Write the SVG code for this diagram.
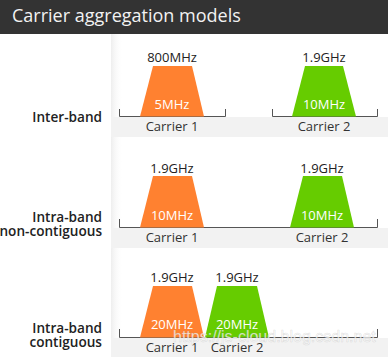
<svg xmlns="http://www.w3.org/2000/svg" width="388" height="357" viewBox="0 0 388 357">
  <defs>
    <linearGradient id="panelEdge" x1="0" y1="0" x2="1" y2="0">
      <stop offset="0" stop-color="#eeeeee"/>
      <stop offset="1" stop-color="#ffffff" stop-opacity="0"/>
    </linearGradient>
    <style>
      .title { font-family: "Open Sans", "Liberation Sans", sans-serif; font-size: 18px; fill: #f2f2f2; }
      .row { font-family: "Open Sans", "Liberation Sans", sans-serif; font-size: 13.6px; font-weight: 600; fill: #222222; text-anchor: end; }
      .freq { font-family: "Open Sans", "Liberation Sans", sans-serif; font-size: 13px; fill: #222222; text-anchor: middle; }
      .bw { font-family: "Open Sans", "Liberation Sans", sans-serif; font-size: 13px; fill: #ffffff; text-anchor: middle; }
      .car { font-family: "Open Sans", "Liberation Sans", sans-serif; font-size: 13px; fill: #333333; text-anchor: middle; }
      .band { fill: #f2f2f2; }
      .axis { fill: none; stroke: #555555; stroke-width: 1; }
      .c1 { fill: #ff8130; }
      .c2 { fill: #66cc00; }
      .mark { font-family: "Liberation Sans", Arial, sans-serif; font-size: 16px; fill: #ffffff; fill-opacity: 0.75; stroke: #9a9a9a; stroke-opacity: 0.3; stroke-width: 0.6; }
    </style>
  </defs>

  <!-- page -->
  <rect x="0" y="0" width="388" height="357" fill="#ffffff"/>

  <!-- header bar -->
  <g id="header">
    <rect x="0" y="0" width="388" height="34" fill="#333333"/>
    <text class="title" x="12" y="22">Carrier aggregation models</text>
  </g>

  <!-- chart panel with soft left edge and grey label bands -->
  <g id="panel">
    <rect x="111" y="34" width="12" height="323" fill="url(#panelEdge)"/>
    <rect class="band" x="111" y="117" width="277" height="20"/>
    <rect class="band" x="111" y="228" width="277" height="20"/>
    <rect class="band" x="111" y="338" width="277" height="19"/>
  </g>

  <!-- carrier axes (brackets) -->
  <g id="connectors">
    <path class="axis" d="M119.5 109 V116.5 H225.5 V109"/>
    <path class="axis" d="M272.5 109 V116.5 H377.5 V109"/>
    <path class="axis" d="M119.5 219 V227.5 H377.5 V219"/>
    <path class="axis" d="M119.5 329 V337.5 H377.5 V329"/>
  </g>

  <!-- row 1: inter-band -->
  <g id="row-inter-band">
    <text class="row" x="102" y="122">Inter-band</text>
  </g>
  <g id="inter-carrier-1">
    <polygon class="c1" points="153,66 192,66 204,116.5 140,116.5"/>
    <text class="freq" x="172" y="62">800MHz</text>
    <text class="bw" x="172" y="109">5MHz</text>
    <text class="car" x="172" y="131">Carrier 1</text>
  </g>
  <g id="inter-carrier-2">
    <polygon class="c2" points="305,66 343,66 356,116.5 292,116.5"/>
    <text class="freq" x="324" y="62">1.9GHz</text>
    <text class="bw" x="324" y="109">10MHz</text>
    <text class="car" x="324" y="131">Carrier 2</text>
  </g>

  <!-- row 2: intra-band non-contiguous -->
  <g id="row-intra-noncontiguous">
    <text class="row" x="102" y="222">Intra-band</text>
    <text class="row" x="102" y="236">non-contiguous</text>
  </g>
  <g id="noncontig-carrier-1">
    <polygon class="c1" points="153,176 192,176 204,227.5 140,227.5"/>
    <text class="freq" x="172" y="173">1.9GHz</text>
    <text class="bw" x="172" y="220">10MHz</text>
    <text class="car" x="172" y="242">Carrier 1</text>
  </g>
  <g id="noncontig-carrier-2">
    <polygon class="c2" points="303,176 342,176 354,227.5 290,227.5"/>
    <text class="freq" x="322" y="173">1.9GHz</text>
    <text class="bw" x="322" y="220">10MHz</text>
    <text class="car" x="322" y="242">Carrier 2</text>
  </g>

  <!-- row 3: intra-band contiguous -->
  <g id="row-intra-contiguous">
    <text class="row" x="102" y="333">Intra-band</text>
    <text class="row" x="102" y="347">contiguous</text>
  </g>
  <g id="contig-carrier-1">
    <polygon class="c1" points="153,286 192,286 204,337.5 140,337.5"/>
    <text class="freq" x="172" y="282">1.9GHz</text>
    <text class="bw" x="172" y="329">20MHz</text>
    <text class="car" x="172" y="352">Carrier 1</text>
  </g>
  <g id="contig-carrier-2">
    <polygon class="c2" points="217,286 257,286 269,337.5 205,337.5"/>
    <text class="freq" x="237" y="282">1.9GHz</text>
    <text class="bw" x="237" y="329">20MHz</text>
    <text class="car" x="237" y="352">Carrier 2</text>
  </g>

  <!-- source watermark -->
  <text class="mark" x="173" y="342">https://js-cloud.blog.csdn.net</text>
</svg>
